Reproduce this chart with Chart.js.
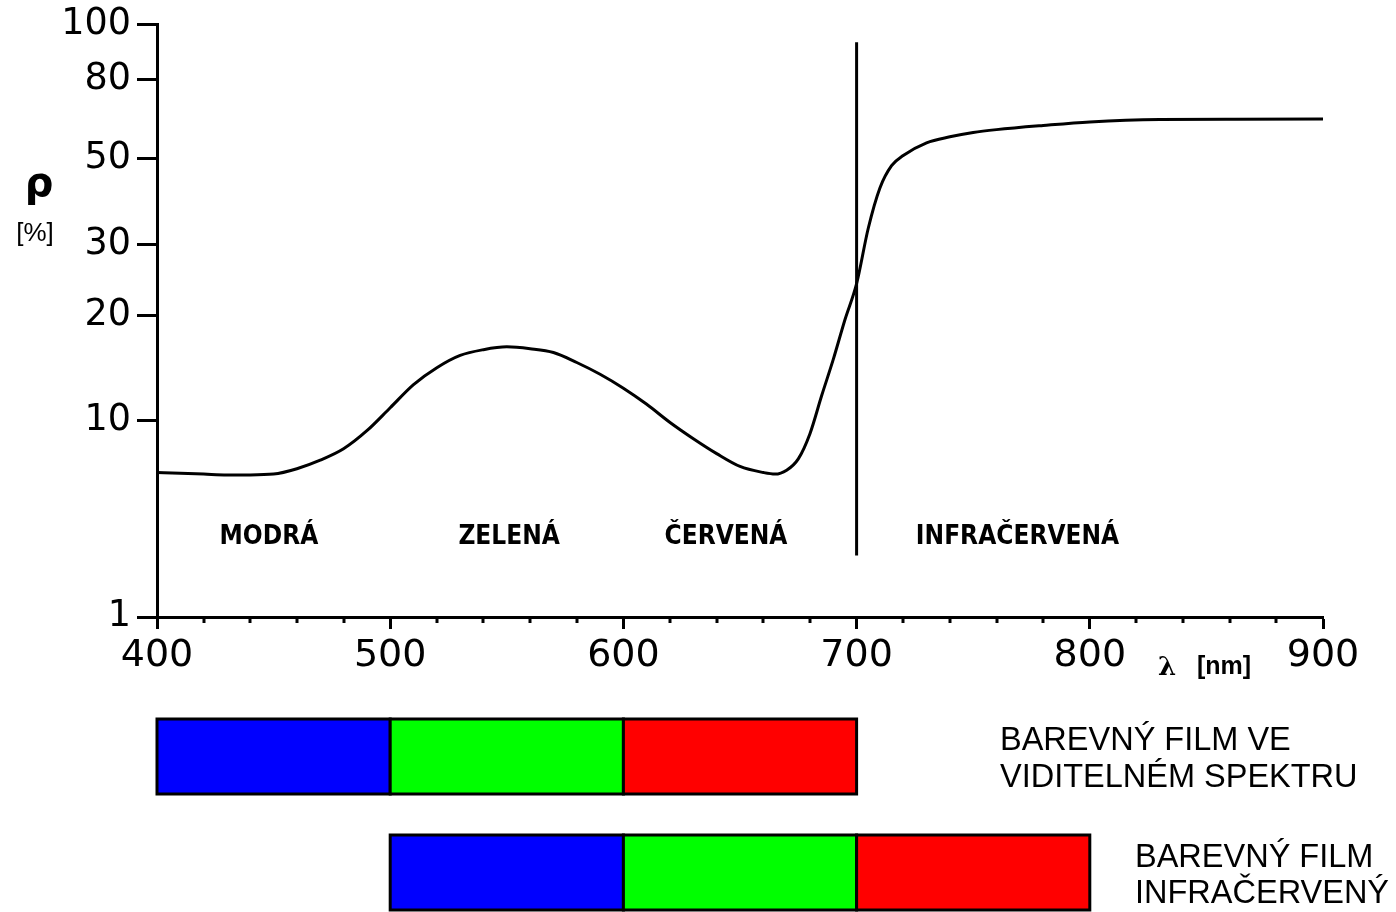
<!DOCTYPE html>
<html>
<head>
<meta charset="utf-8">
<title>Spektrální odrazivost vegetace</title>
<script src="https://cdn.jsdelivr.net/npm/chart.js@4.4.1/dist/chart.umd.min.js"></script>
<style>
  html, body { margin: 0; padding: 0; background: #fff; }
</style>
</head>
<body>
<canvas id="spectrum-chart" width="1396" height="912"></canvas>
<script>
// reflectance curve: wavelength [nm] -> rho [%]
const wavelengths = [400, 410, 420, 430, 440, 450, 460, 470, 480, 490,
  500, 510, 520, 530, 540, 550, 560, 570, 580, 590,
  600, 610, 620, 630, 640, 650, 660, 665, 670, 675,
  680, 685, 690, 695, 700, 705, 710, 715, 720, 730,
  740, 750, 760, 780, 800, 830, 860, 900];
const reflectance = [5.45, 5.4, 5.35, 5.3, 5.3, 5.35, 5.7, 6.3, 7.2, 8.9,
  10.9, 12.7, 14.2, 15.4, 16.0, 16.3, 16.1, 15.7, 14.7, 13.6,
  12.4, 11.15, 9.8, 8.1, 6.8, 5.85, 5.45, 5.35, 5.6, 6.4,
  8.6, 11.8, 15.0, 19.5, 24, 33, 42, 48, 51, 55,
  57, 58.5, 59.5, 61, 62.3, 63.2, 63.3, 63.4];

// vertical divider between visible and infrared part
const dividerX = [700, 700];
const dividerY = [2.06, 93];

const xTicks = [400, 500, 600, 700, 800, 900];
const yTicks = [1, 10, 20, 30, 50, 80, 100];

const bandNames = ['MODRÁ', 'ZELENÁ', 'ČERVENÁ', 'INFRAČERVENÁ'];
const bandCentres = [448, 551, 644, 769];

const filmVisible = [400, 500, 600, 700];
const filmInfrared = [500, 600, 700, 800];
const filmColours = ['#0000FF', '#00FF00', '#FF0000'];
const filmNames = [['BAREVNÝ FILM VE', 'VIDITELNÉM SPEKTRU'], ['BAREVNÝ FILM', 'INFRAČERVENÝ']];

// the original y axis is hand drawn, so the ticks are not evenly spaced on a log scale.
// this says where along the axis (0 = bottom, 1 = top) each tick sits
const yTickSpots = [0, 0.331, 0.508, 0.629, 0.773, 0.906, 1];

function toSpot(v) {
  let i = 0;
  while (i < yTicks.length - 2 && v > yTicks[i + 1]) i++;
  const a = Math.log10(yTicks[i]), b = Math.log10(yTicks[i + 1]);
  const t = (Math.log10(v) - a) / (b - a);
  return yTickSpots[i] + t * (yTickSpots[i + 1] - yTickSpots[i]);
}

function fromSpot(d) {
  let i = 0;
  while (i < yTicks.length - 2 && d > yTickSpots[i + 1]) i++;
  const t = (d - yTickSpots[i]) / (yTickSpots[i + 1] - yTickSpots[i]);
  const a = Math.log10(yTicks[i]), b = Math.log10(yTicks[i + 1]);
  return Math.pow(10, a + t * (b - a));
}

class HandLogScale extends Chart.LogarithmicScale {
  getPixelForValue(value) {
    if (value === undefined || value === null || value <= 0) value = this.min;
    return this.getPixelForDecimal(toSpot(value));
  }
  getValueForPixel(pixel) {
    return fromSpot(this.getDecimalForPixel(pixel));
  }
}
HandLogScale.id = 'handlog';
Chart.register(HandLogScale);

const minorStep = 20;

const extras = {
  id: 'extras',
  afterDraw(chart) {
    const ctx = chart.ctx;
    const x = chart.scales.x, y = chart.scales.y;
    const area = chart.chartArea;
    ctx.save();
    ctx.fillStyle = '#000';
    ctx.strokeStyle = '#000';

    // minor ticks on the wavelength axis
    ctx.lineWidth = 3;
    for (let v = x.min + minorStep; v < x.max; v += minorStep) {
      if (v % 100 === 0) continue;
      const px = Math.round(x.getPixelForValue(v));
      ctx.beginPath();
      ctx.moveTo(px, area.bottom);
      ctx.lineTo(px, area.bottom + 6);
      ctx.stroke();
    }

    // axis titles
    ctx.textAlign = 'center';
    ctx.textBaseline = 'middle';
    ctx.font = 'bold 40px "DejaVu Sans"';
    ctx.fillText('ρ', 39, 186);
    ctx.font = '26px "Liberation Sans"';
    ctx.fillText('[%]', 35, 234);
    ctx.font = 'bold 26px "DejaVu Serif"';
    ctx.fillText('λ', 1167, 668);
    ctx.font = 'bold 25px "Liberation Sans"';
    ctx.fillText('[nm]', 1224, 667);

    // spectral band names
    ctx.font = 'bold 26px "Liberation Sans Narrow", "DejaVu Sans Condensed", sans-serif';
    const bandY = y.getPixelForValue(2.55);
    bandNames.forEach((name, i) => {
      ctx.fillText(name, x.getPixelForValue(bandCentres[i]), bandY);
    });

    // film sensitivity bars
    const films = [filmVisible, filmInfrared];
    const barTops = [719, 835];
    const barHeight = 75;
    ctx.lineWidth = 3;
    films.forEach((edges, f) => {
      for (let i = 0; i < edges.length - 1; i++) {
        const x0 = x.getPixelForValue(edges[i]);
        const x1 = x.getPixelForValue(edges[i + 1]);
        ctx.fillStyle = filmColours[i];
        ctx.fillRect(x0, barTops[f], x1 - x0, barHeight);
        ctx.strokeRect(x0, barTops[f], x1 - x0, barHeight);
      }
    });

    ctx.fillStyle = '#000';
    ctx.textAlign = 'left';
    ctx.font = '32.5px "Liberation Sans"';
    const textX = [1000, 1135];
    const textY = [[741, 778], [858, 894]];
    filmNames.forEach((lines, f) => {
      lines.forEach((line, j) => ctx.fillText(line, textX[f], textY[f][j]));
    });
    ctx.restore();
  }
};

new Chart(document.getElementById('spectrum-chart'), {
  type: 'line',
  data: {
    datasets: [
      {
        label: 'ρ [%]',
        data: wavelengths.map((w, i) => ({ x: w, y: reflectance[i] })),
        borderColor: '#000',
        borderWidth: 3,
        pointRadius: 0,
        cubicInterpolationMode: 'monotone',
        fill: false
      },
      {
        label: '700 nm',
        data: dividerX.map((w, i) => ({ x: w, y: dividerY[i] })),
        borderColor: '#000',
        borderWidth: 3,
        pointRadius: 0,
        fill: false
      }
    ]
  },
  options: {
    responsive: false,
    animation: false,
    layout: { padding: { top: 22, right: 73, left: 0, bottom: 0 } },
    plugins: {
      legend: { display: false },
      tooltip: { enabled: false }
    },
    scales: {
      x: {
        type: 'linear',
        position: 'bottom',
        min: 400,
        max: 900,
        afterBuildTicks: (axis) => { axis.ticks = xTicks.map(v => ({ value: v })); },
        afterFit: (axis) => { axis.height = 295; },
        ticks: {
          color: '#000',
          font: { family: 'DejaVu Sans', size: 38, lineHeight: 1 },
          padding: 8,
          maxRotation: 0
        },
        grid: { drawOnChartArea: false, tickLength: 12, tickWidth: 3, tickColor: '#000' },
        border: { color: '#000', width: 3 }
      },
      y: {
        type: 'handlog',
        position: 'left',
        min: 1,
        max: 100,
        afterBuildTicks: (axis) => { axis.ticks = yTicks.map(v => ({ value: v })); },
        afterFit: (axis) => { axis.width = 157; },
        ticks: {
          color: '#000',
          font: { family: 'DejaVu Sans', size: 36.5, lineHeight: 1 },
          padding: 6,
          callback: (v) => String(v)
        },
        grid: { drawOnChartArea: false, tickLength: 20, tickWidth: 3, tickColor: '#000' },
        border: { color: '#000', width: 3 }
      }
    }
  },
  plugins: [extras]
});
</script>
</body>
</html>
